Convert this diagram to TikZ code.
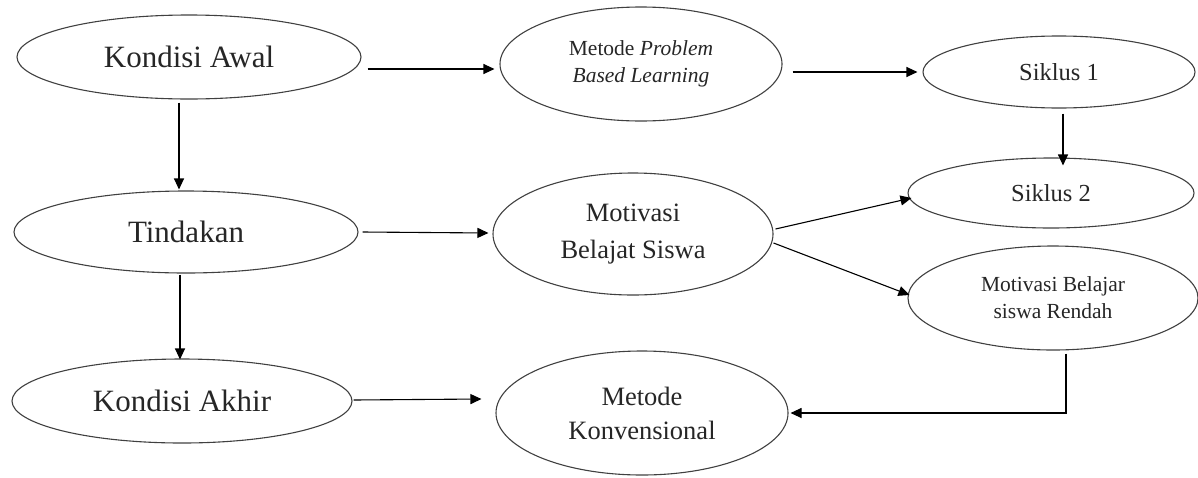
\documentclass[tikz,border=0pt]{standalone}
\usepackage{fontspec}
\setmainfont{Liberation Serif}
\usetikzlibrary{shapes.geometric,arrows.meta,calc}
\tikzset{
  oval/.style={draw=black!75, line width=1.1pt, ellipse, inner sep=0pt, align=center, text=black!85},
  arr/.style={draw=black, line width=1.1pt, -{Triangle[length=11pt,width=10pt]}},
  plain/.style={draw=black, line width=1.1pt}
}
\begin{document}
\begin{tikzpicture}[x=1pt,y=-1pt]
\useasboundingbox (0,0) rectangle (1198,477);
% left column
\node[oval, minimum width=344, minimum height=84, font=\fontsize{31}{34}\selectfont] (ka) at (189,57) {Kondisi Awal};
\node[oval, minimum width=344, minimum height=82, font=\fontsize{31}{34}\selectfont] (tin) at (186,232) {Tindakan};
\node[oval, minimum width=340, minimum height=84, font=\fontsize{31}{34}\selectfont] (kak) at (182,401) {Kondisi Akhir};
% middle column
\node[oval, minimum width=282, minimum height=114, font=\fontsize{21.5}{27}\selectfont] (pbl) at (641,64) {Metode \textit{Problem}\\\textit{Based Learning}};
\node[oval, minimum width=280, minimum height=122, font=\fontsize{26.5}{37}\selectfont] (mot) at (633,234) {Motivasi\\Belajat Siswa};
\node[oval, minimum width=292, minimum height=124, font=\fontsize{26.5}{34}\selectfont] (kon) at (642,413) {Metode\\Konvensional};
% right column
\node[oval, minimum width=272, minimum height=72, font=\fontsize{24.5}{28}\selectfont] (s1) at (1059,72) {Siklus 1};
\node[oval, minimum width=286, minimum height=70, font=\fontsize{24.5}{28}\selectfont] (s2) at (1051,193) {Siklus 2};
\node[oval, minimum width=290, minimum height=104, font=\fontsize{21.5}{27}\selectfont] (re) at (1053,298) {Motivasi Belajar\\siswa Rendah};
% connectors
\draw[arr] ($(ka.east)+(6,12)$) -- ($(pbl.west)+(-5,5)$);
\draw[arr] ($(pbl.east)+(10,8)$) -- ($(s1.west)+(-5,0)$);
\draw[arr] ($(s1.south)+(4,5)$) -- ($(s2.north)+(12,8)$);
\draw[arr] ($(ka.south)+(-10,3)$) -- ($(tin.north)+(-7,-1)$);
\draw[arr] ($(tin.south)+(-6,1)$) -- ($(kak.north)+(-2,1)$);
\draw[arr] ($(tin.east)+(4,0)$) -- ($(mot.west)+(-4,-1)$);
\draw[arr] ($(kak.east)+(1,-1)$) -- ($(kon.west)+(-14,-14)$);
\draw[arr] ($(mot.east)+(2,-5)$) -- ($(s2.west)+(4,5)$);
\draw[arr] ($(mot.east)+(0,9)$) -- ($(re.west)+(2,-3)$);
\draw[arr] ($(re.south)+(13,3)$) |- ($(kon.east)+(2,0)$);
\end{tikzpicture}
\end{document}
